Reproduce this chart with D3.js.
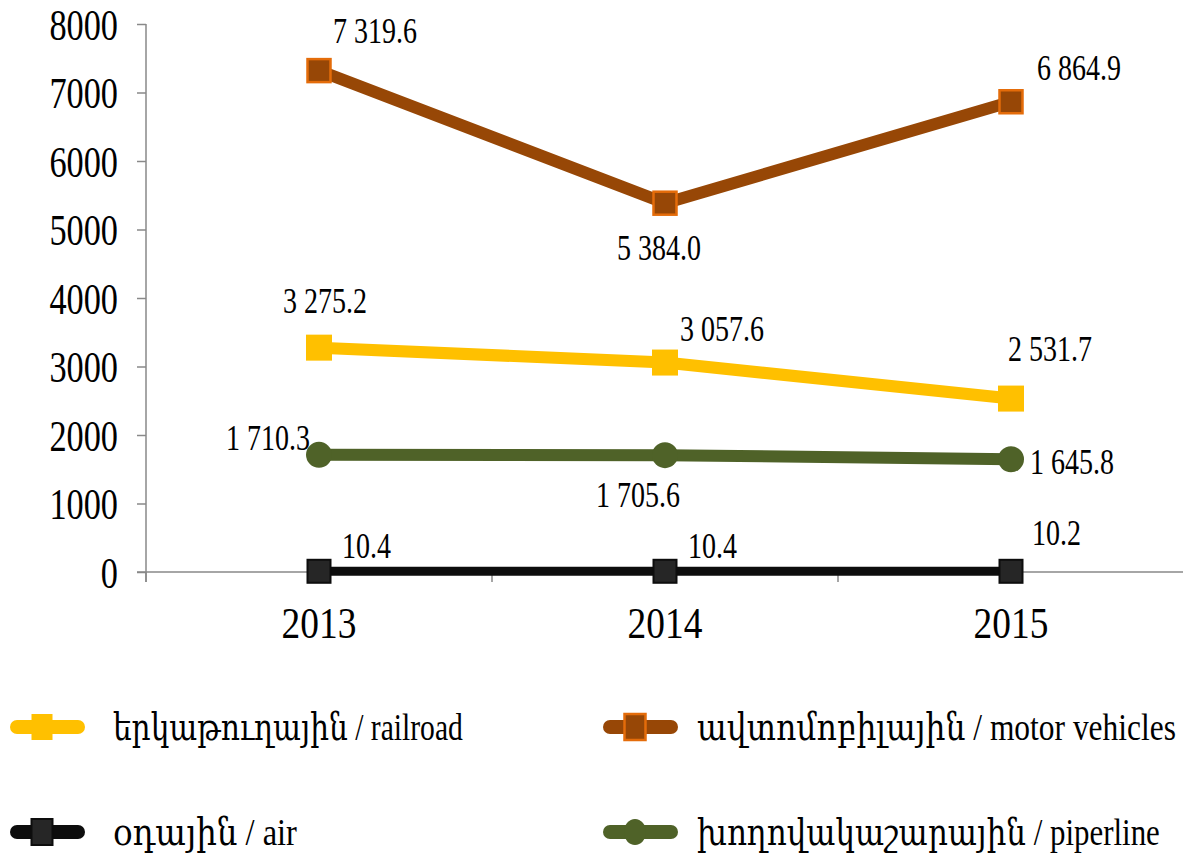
<!DOCTYPE html>
<html>
<head>
<meta charset="utf-8">
<script src="https://cdn.jsdelivr.net/npm/d3@7"></script>
<style>
  html, body { margin: 0; padding: 0; background: #fff; }
  svg { display: block; }
  text { font-family: "Liberation Serif", "DejaVu Serif", serif; fill: #000; }
</style>
</head>
<body>
<svg id="chart" width="1183" height="856"></svg>
<script>
// ---- data ----
const years = ["2013", "2014", "2015"];
const railroad = [3275.2, 3057.6, 2531.7];
const motorVehicles = [7319.6, 5384.0, 6864.9];
const air = [10.4, 10.4, 10.2];
const pipeline = [1710.3, 1705.6, 1645.8];
const yTicks = [0, 1000, 2000, 3000, 4000, 5000, 6000, 7000, 8000];
const seriesNames = [
  "երկաթուղային / railroad",
  "ավտոմոբիլային / motor vehicles",
  "օդային / air",
  "խողովակաշարային / piperline"
];

// ---- layout / styles ----
const svg = d3.select("#chart");
const x = d3.scaleBand().domain(years).range([146, 1184]);
const y = d3.scaleLinear().domain([0, 8000]).range([572, 24]);
const cx = d => x(d) + x.bandwidth() / 2;
const axisColor = "#898989";
const fmt = d3.formatLocale({ decimal: ".", thousands: " ", grouping: [3], currency: ["", ""] }).format(",.1f");

const series = [
  { name: seriesNames[0], values: railroad, color: "#FFC000", width: 12, marker: "square", size: 26, fill: "#FFC000", stroke: "none", sw: 0,
    labelOff: [[-36, -35], [15, -22], [-3, -38]] },
  { name: seriesNames[1], values: motorVehicles, color: "#974706", width: 12, marker: "square", size: 23, fill: "#974706", stroke: "#E46C0A", sw: 2.5,
    labelOff: [[14, -28], [-48, 57], [26, -22]] },
  { name: seriesNames[2], values: air, color: "#0D0D0D", width: 9, marker: "square", size: 23, fill: "#262626", stroke: "#0D0D0D", sw: 2,
    labelOff: [[23, -13], [23, -13], [21, -26]] },
  { name: seriesNames[3], values: pipeline, color: "#4F6228", width: 12, marker: "circle", size: 26, fill: "#4F6228", stroke: "none", sw: 0,
    labelOff: [[-93, -5], [-69, 52], [19, 15]] }
];

// scaled text helper (reference text is horizontally condensed)
function stext(g, tx, ty, str, size, sx, anchor) {
  return g.append("text")
    .attr("transform", `translate(${tx},${ty}) scale(${sx},1)`)
    .attr("font-size", size)
    .attr("text-anchor", anchor || "start")
    .text(str);
}

// ---- axes ----
const yAxis = svg.append("g").attr("transform", "translate(146,0)")
  .call(d3.axisLeft(y).tickValues(yTicks).tickSize(9).tickFormat(d3.format("d")));
yAxis.select(".domain").attr("stroke", axisColor).attr("stroke-width", 1.5).attr("d", "M0,24V582");
yAxis.selectAll(".tick line").attr("stroke", axisColor).attr("stroke-width", 1.5);
yAxis.selectAll(".tick text")
  .attr("font-size", 44).attr("font-family", "Liberation Serif, serif").attr("fill", "#000")
  .attr("x", null).attr("dy", null)
  .attr("transform", "translate(-28,15) scale(0.78,1)");

const xAxis = svg.append("g").attr("transform", "translate(0,572)")
  .call(d3.axisBottom(x).tickSize(0).tickFormat(() => ""));
xAxis.select(".domain").attr("stroke", axisColor).attr("stroke-width", 1.5).attr("d", "M137,0H1183");
xAxis.selectAll(".tick").remove();
const boundaries = [x.range()[0]].concat(years.slice(1).map(d => x(d)));
xAxis.selectAll("line.bt").data(boundaries).enter().append("line")
  .attr("x1", d => d).attr("x2", d => d).attr("y1", 0).attr("y2", 10)
  .attr("stroke", axisColor).attr("stroke-width", 1.5);
years.forEach(yr => stext(xAxis, cx(yr), 66, yr, 44, 0.85, "middle"));

// ---- lines & markers ----
const line = d3.line().x((d, i) => cx(years[i])).y(d => y(d));
function marker(g, s, px, py, w, h) {
  if (s.marker === "circle") {
    g.append("ellipse").attr("cx", px).attr("cy", py).attr("rx", w / 2).attr("ry", h / 2).attr("fill", s.fill);
  } else {
    g.append("rect").attr("x", px - w / 2).attr("y", py - h / 2).attr("width", w).attr("height", h)
      .attr("fill", s.fill).attr("stroke", s.stroke).attr("stroke-width", s.sw);
  }
}
const plot = svg.append("g");
series.forEach(s => {
  plot.append("path").datum(s.values).attr("d", line)
    .attr("fill", "none").attr("stroke", s.color).attr("stroke-width", s.width).attr("stroke-linejoin", "round");
});
series.forEach(s => {
  s.values.forEach((v, i) => marker(plot, s, cx(years[i]), y(v), s.size, s.size));
});
series.forEach(s => {
  s.values.forEach((v, i) => {
    const [dx, dy] = s.labelOff[i];
    stext(plot, cx(years[i]) + dx, y(v) + dy, fmt(v), 35, 0.8, "start");
  });
});

// ---- legend ----
const legendPos = [[10, 727], [603, 727], [10, 832], [603, 832]];
const legendTextX = [113, 697, 113, 697];
const legendTextLen = [350, 479, 184, 463];
const legend = svg.append("g");
series.forEach((s, i) => {
  const [lx, ly] = legendPos[i];
  legend.append("line").attr("x1", lx + 7).attr("x2", lx + 68).attr("y1", ly).attr("y2", ly)
    .attr("stroke", s.color).attr("stroke-width", 14).attr("stroke-linecap", "round");
  marker(legend, s, lx + 32, ly, s.marker === "circle" ? 22 : 21, 26);
  const t = legend.append("text").attr("font-size", 38).text(s.name)
    .attr("transform", `translate(${legendTextX[i]},${ly + 13})`);
  const w = t.node().getComputedTextLength();
  const sx = legendTextLen[i] / w;
  t.attr("transform", `translate(${legendTextX[i]},${ly + 13}) scale(${sx},1)`);
});
</script>
</body>
</html>
